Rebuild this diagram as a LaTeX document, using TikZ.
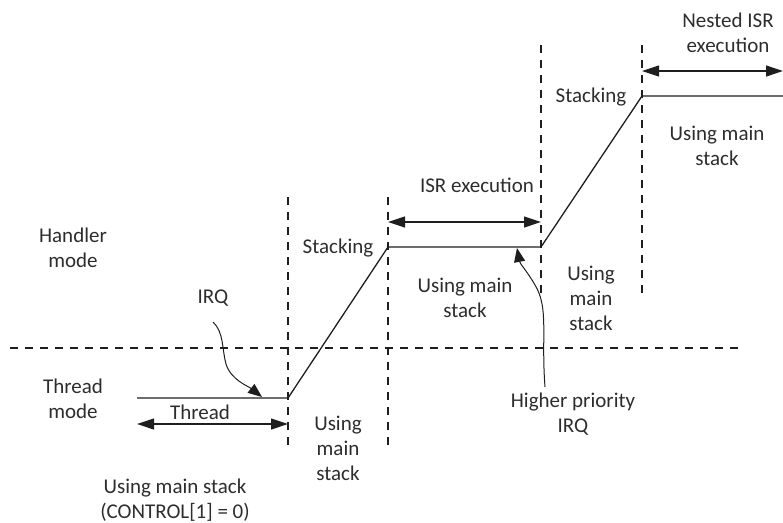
\documentclass[tikz,border=0pt]{standalone}
\usepackage{fontspec}
\setmainfont{Carlito}
\usetikzlibrary{positioning,arrows.meta}
\definecolor{inkgray}{RGB}{30,30,30}
\definecolor{txtgray}{RGB}{45,45,45}

\begin{document}
\begin{tikzpicture}[x=1pt,y=-1pt,
    lbl/.style={text=txtgray,font=\fontsize{21}{25}\selectfont,align=center,inner sep=0pt},
    sep/.style={inkgray,line width=1.1pt,dash pattern=on 8pt off 7pt},
    level/.style={inkgray,line width=1.3pt},
    span/.style={inkgray,line width=1.2pt,
      {Triangle[length=17pt,width=11pt]}-{Triangle[length=17pt,width=11pt]}},
    irq/.style={inkgray,line width=1pt,-{Triangle[length=14pt,width=11pt]}}]
  \useasboundingbox (0,0) rectangle (783,522);

  % mode separators
  \draw[sep] (10,348) -- (743,348);
  \foreach \x/\top/\bot in {288/197/448, 388/197/448, 541/45/298, 642/45/298}
    \draw[sep] (\x,\top) -- (\x,\bot);

  % timeline
  \coordinate (t0) at (137,398);
  \coordinate (t1) at (288,398);
  \coordinate (h0) at (388,247);
  \coordinate (h1) at (541,247);
  \coordinate (n0) at (642,96);
  \coordinate (n1) at (783,96);
  \draw[level] (t0) -- (t1) -- (h0) -- (h1) -- (n0) -- (n1);

  % spans
  \coordinate (thrL) at (137,424);
  \coordinate (thrR) at (288,424);
  \coordinate (isrL) at (388,222);
  \coordinate (isrR) at (541,222);
  \coordinate (nesL) at (642,71);
  \coordinate (nesR) at (783,71);
  \draw[span] (thrL) -- (thrR);
  \draw[span] (isrL) -- (isrR);
  \draw[span] (nesL) -- (nesR);

  % labels
  \node[lbl] (nested) at (728,33) {Nested ISR\\execution};
  \node[lbl] (stackB) at (591,97) {Stacking};
  \node[lbl] (usingD) at (717,146) {Using main\\stack};
  \node[lbl] (isrlbl) at (477,185) {ISR execution};
  \node[lbl] (stackA) at (338,248) {Stacking};
  \node[lbl] (handler) at (73,248) {Handler\\mode};
  \node[lbl] (irqA) at (213,298) {IRQ};
  \node[lbl] (usingB) at (465,298) {Using main\\stack};
  \node[lbl] (usingC) at (591,298) {Using\\main\\stack};
  \node[lbl] (thrmode) at (73,399) {Thread\\mode};
  \node[lbl] (thrlbl) at (200,412) {Thread};
  \node[lbl] (usingA) at (338,448) {Using\\main\\stack};
  \node[lbl] (hiirq) at (573,414) {Higher priority\\IRQ};
  \node[lbl] (control) at (175,500) {Using main stack\\(CONTROL[1] = 0)};

  % interrupt requests
  \coordinate (irqAs) at (213,322);
  \coordinate (irqAe) at (262,397);
  \coordinate (hiirqs) at (545,387);
  \coordinate (hiirqe) at (517,248);
  \draw[irq] (irqAs) .. controls (224,332) and (222,350) .. (226,364)
    .. controls (231,380) and (248,386) .. (irqAe);
  \draw[irq] (hiirqs) .. controls (541,335) and (549,308) .. (535,285)
    .. controls (527,271) and (520,264) .. (hiirqe);
\end{tikzpicture}
\end{document}
